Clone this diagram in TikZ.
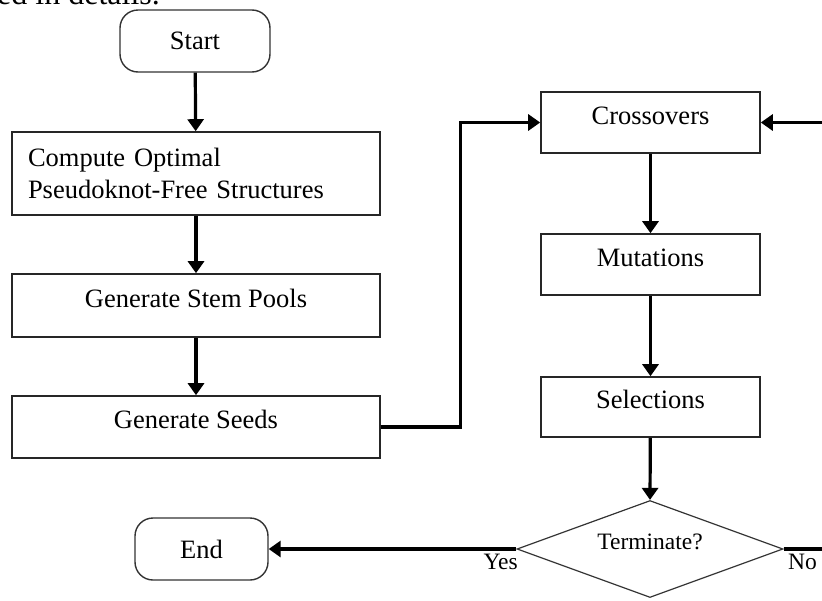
\documentclass[tikz,border=0pt]{standalone}
\usepackage{fontspec}
\setmainfont{Liberation Serif}
\usetikzlibrary{arrows.meta,shapes.geometric}

\begin{document}
\begin{tikzpicture}[x=1pt,y=-1pt,
  every node/.style={font=\fontsize{26.5}{32}\selectfont, text=black},
  boxbase/.style={draw=black!85, line width=1.6pt, rectangle, inner sep=0pt},
  stepbox/.style={boxbase, text height=0.7em, text depth=0.4em},
  termbox/.style={draw=black!80, line width=1.4pt, rectangle, rounded corners=18pt,
                  inner sep=0pt, minimum width=#1, minimum height=62pt},
  decbox/.style={draw=black!80, line width=1.2pt, diamond, shape aspect=2.74,
                 inner sep=0pt, minimum width=266pt, minimum height=97pt,
                 font=\fontsize{23.5}{28}\selectfont, text height=0.7em, text depth=0.55em},
  tag/.style={font=\fontsize{23.5}{28}\selectfont},
  flow/.style={line width=3.2pt, -{Triangle[length=12pt,width=16pt]}},
  link/.style={line width=3.2pt},
]
\useasboundingbox (0,0) rectangle (822,600);
\clip (0,0) rectangle (822,600);

% tail of the preceding text line
\node[anchor=base west, inner sep=0pt, font=\fontsize{32}{38}\selectfont] (prev) at (-3,4) {ed in details.};

% left column
\node[termbox=150pt] (start) at (195,41) {Start};
\node[boxbase, minimum width=368pt, minimum height=83pt, align=left, text width=336pt]
  (compute) at (196,173.5) {Compute Optimal\\Pseudoknot-Free Structures};
\node[stepbox, minimum width=368pt, minimum height=63pt] (stem) at (196,305.5) {Generate Stem Pools};
\node[stepbox, minimum width=368pt, minimum height=62pt] (seeds) at (196,427) {Generate Seeds};

% right column
\node[stepbox, minimum width=219pt, minimum height=61pt] (cross) at (650.5,122.5) {Crossovers};
\node[stepbox, minimum width=219pt, minimum height=61pt] (mut) at (650.5,264.5) {Mutations};
\node[stepbox, minimum width=219pt, minimum height=60pt] (sel) at (650.5,407) {Selections};
\node[decbox] (dec) at (650,549) {Terminate?};
\node[termbox=133pt] (end) at (201.5,549) {End};

% loop ends leaving the right margin
\coordinate (loopin) at (830,122.5);
\coordinate (noout) at (830,549);

% connectors
\draw[flow] (start) -- (compute);
\draw[flow] (compute) -- (stem);
\draw[flow] (stem) -- (seeds);
\draw[flow] (seeds.east) -- ++(80,0) |- (cross.west);
\draw[flow] (cross) -- (mut);
\draw[flow] (mut) -- (sel);
\draw[flow] (sel) -- (dec.north);
\draw[flow] (dec.west) -- (end.east);
\draw[link] (dec.east) -- (noout);
\draw[flow] (loopin) -- (cross.east);

% branch labels
\node[tag, anchor=base east, inner sep=0pt] (yes) at (518,569) {Yes};
\node[tag, anchor=base west, inner sep=0pt] (no) at (788,569) {No};
\end{tikzpicture}
\end{document}
